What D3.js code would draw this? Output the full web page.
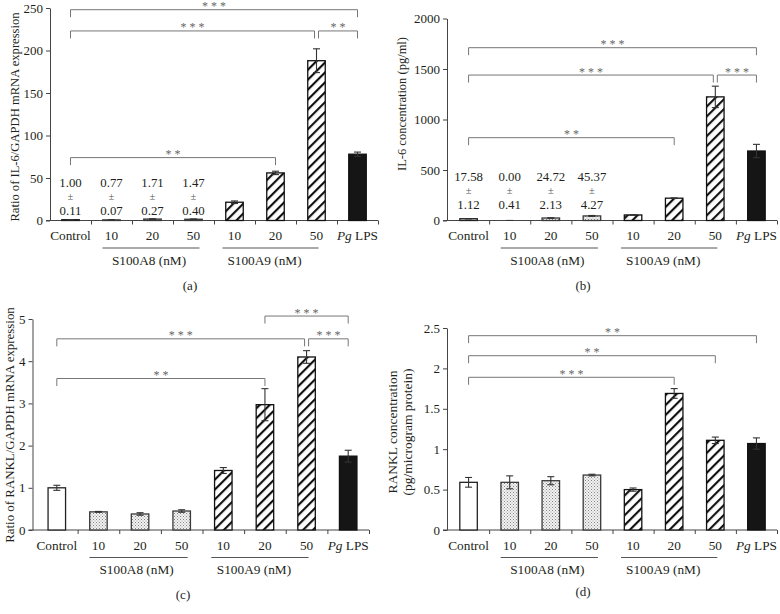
<!DOCTYPE html>
<html><head><meta charset="utf-8">
<script src="https://cdn.jsdelivr.net/npm/d3@7"></script>
<style>
body{margin:0;background:#fff}
svg{display:block}
text{font-family:"Liberation Serif","Times New Roman",serif}
</style>
</head><body>
<svg id="chart" width="780" height="614"></svg>
<script>
// ---------------- data ----------------
const categories = ["Control", "10", "20", "50", "10", "20", "50", "Pg LPS"];
const treatment = ["control", "a8", "a8", "a8", "a9", "a9", "a9", "lps"];
const groupNames = ["S100A8 (nM)", "S100A9 (nM)"];

// (a) IL-6/GAPDH mRNA
const il6Mrna    = [1.00, 0.77, 1.71, 1.47, 21.5, 56, 188, 78];
const il6MrnaErr = [0.11, 0.07, 0.27, 0.40, 1.5, 2, 14, 2.5];
// (b) IL-6 protein (pg/ml)
const il6Prot    = [17.58, 0.00, 24.72, 45.37, 55, 221, 1224, 688];
const il6ProtErr = [1.12, 0.41, 2.13, 4.27, 3, 3, 106, 66];
// (c) RANKL/GAPDH mRNA
const ranklMrna    = [1.00, 0.43, 0.38, 0.45, 1.41, 2.97, 4.10, 1.75];
const ranklMrnaErr = [0.06, 0.01, 0.03, 0.03, 0.07, 0.38, 0.15, 0.14];
// (d) RANKL protein (pg/microgram protein)
const ranklProt    = [0.59, 0.59, 0.61, 0.68, 0.50, 1.69, 1.11, 1.07];
const ranklProtErr = [0.06, 0.08, 0.05, 0.01, 0.02, 0.06, 0.04, 0.07];

// tick labels
const ticksA = [0, 50, 100, 150, 200, 250];
const ticksB = [0, 500, 1000, 1500, 2000];
const ticksC = [0, 1, 2, 3, 4, 5];
const ticksD = [0, 0.5, 1, 1.5, 2, 2.5];

// significance brackets: from/to category index, height in data units
const sigA = [
  {from: 0, to: 7, label: "***", at: 248},
  {from: 0, to: 6, label: "***", at: 223},
  {from: 6, to: 7, label: "**",  at: 223},
  {from: 0, to: 5, label: "**",  at: 74}
];
const sigB = [
  {from: 0, to: 7, label: "***", at: 1711},
  {from: 0, to: 6, label: "***", at: 1440},
  {from: 6, to: 7, label: "***", at: 1440},
  {from: 0, to: 5, label: "**",  at: 820}
];
const sigC = [
  {from: 5, to: 7, label: "***", at: 5.07},
  {from: 0, to: 6, label: "***", at: 4.53},
  {from: 6, to: 7, label: "***", at: 4.53},
  {from: 0, to: 5, label: "**",  at: 3.59}
];
const sigD = [
  {from: 0, to: 7, label: "**",  at: 2.405},
  {from: 0, to: 6, label: "**",  at: 2.157},
  {from: 0, to: 5, label: "***", at: 1.89}
];

// ---------------- drawing ----------------
const svg = d3.select("#chart");
const TEXT = "#231f20";
const defs = svg.append("defs");

const hatch = defs.append("pattern").attr("id", "hatch")
  .attr("patternUnits", "userSpaceOnUse").attr("width", 7).attr("height", 7)
  .attr("patternTransform", "rotate(45)");
hatch.append("rect").attr("width", 7).attr("height", 7).attr("fill", "#fff");
hatch.append("line").attr("x1", 1).attr("y1", 0).attr("x2", 1).attr("y2", 7)
  .attr("stroke", "#111").attr("stroke-width", 2.3);

const dots = defs.append("pattern").attr("id", "dots")
  .attr("patternUnits", "userSpaceOnUse").attr("width", 3).attr("height", 3);
dots.append("rect").attr("width", 3).attr("height", 3).attr("fill", "#f2f2f2");
dots.append("rect").attr("x", 0).attr("y", 0).attr("width", 1).attr("height", 1).attr("fill", "#858585");
dots.append("rect").attr("x", 1.5).attr("y", 1.5).attr("width", 1).attr("height", 1).attr("fill", "#9a9a9a");

const fillOf = {control: "#fff", a8: "url(#dots)", a9: "url(#hatch)", lps: "#151515"};
const strokeOf = {control: "#222", a8: "#3a3a3a", a9: "#111", lps: "#111"};

function drawPanel(cfg) {
  const g = svg.append("g");
  const n = categories.length;
  const x = d3.scaleBand().domain(d3.range(n)).range(cfg.xRange);
  const bw = x.bandwidth();
  const cx = i => x(i) + bw / 2;
  const y = d3.scaleLinear().domain([0, cfg.yMax]).range([cfg.y0, cfg.yTop]);
  const barW = 17.5;

  // y axis
  const ya = g.append("g").attr("transform", `translate(${cfg.yAxisX},0)`)
    .call(d3.axisLeft(y).tickValues(cfg.ticks).tickSize(4).tickSizeOuter(0)
      .tickPadding(3).tickFormat(d => String(d)));
  ya.select(".domain").attr("stroke", "#444");
  ya.selectAll(".tick line").attr("stroke", "#444");
  ya.selectAll(".tick text").attr("fill", TEXT).style("font-size", "13px")
    .style("font-family", '"Liberation Serif",serif');

  // x axis baseline + boundary ticks
  const xb = d3.scaleLinear().domain([0, n]).range(cfg.xRange);
  const xa = g.append("g").attr("transform", `translate(0,${cfg.y0})`)
    .call(d3.axisBottom(xb).tickValues(d3.range(1, n + 1)).tickSize(4).tickSizeOuter(0).tickFormat(""));
  xa.select(".domain").remove();
  xa.selectAll(".tick line").attr("stroke", "#444");
  g.append("line").attr("x1", cfg.yAxisX - 4).attr("x2", cfg.xRange[1])
    .attr("y1", cfg.y0).attr("y2", cfg.y0).attr("stroke", "#444").attr("stroke-width", 1.1);

  // bars
  g.selectAll("rect.bar").data(cfg.values).join("rect").attr("class", "bar")
    .attr("x", (d, i) => cx(i) - barW / 2)
    .attr("width", barW)
    .attr("y", d => y(d))
    .attr("height", d => cfg.y0 - y(d))
    .attr("fill", (d, i) => fillOf[treatment[i]])
    .attr("stroke", (d, i) => strokeOf[treatment[i]])
    .attr("stroke-width", 1.3);

  // error bars
  const eb = g.selectAll("g.err").data(cfg.values).join("g").attr("class", "err");
  eb.each(function (d, i) {
    const e = cfg.errors[i];
    const s = d3.select(this);
    const c = cx(i);
    const lo = d3.max([0, d - e]);
    s.append("line").attr("x1", c).attr("x2", c).attr("y1", y(lo)).attr("y2", y(d + e))
      .attr("stroke", "#333").attr("stroke-width", 1.1);
    s.append("line").attr("x1", c - 3.5).attr("x2", c + 3.5).attr("y1", y(d + e)).attr("y2", y(d + e))
      .attr("stroke", "#333").attr("stroke-width", 1.1);
    if (d - e > 0) {
      s.append("line").attr("x1", c - 3.5).attr("x2", c + 3.5).attr("y1", y(lo)).attr("y2", y(lo))
        .attr("stroke", "#333").attr("stroke-width", 1.1);
    }
  });

  // category labels
  const cl = g.selectAll("text.cat").data(categories).join("text").attr("class", "cat")
    .attr("x", (d, i) => cx(i)).attr("y", cfg.y0 + 19.5)
    .attr("text-anchor", "middle").attr("fill", TEXT).style("font-size", "13.3px");
  cl.each(function (d) {
    const t = d3.select(this);
    if (d.startsWith("Pg ")) {
      t.append("tspan").attr("font-style", "italic").text("Pg");
      t.append("tspan").text(" " + d.slice(3));
    } else t.text(d);
  });

  // group lines and labels
  const groupSpans = [[1, 3, -9, 6, -2], [4, 6, -12, 2, -6]];
  groupSpans.forEach((sp, k) => {
    const x1 = cx(sp[0]) + sp[2], x2 = cx(sp[1]) + sp[3];
    const ly = cfg.y0 + 27.5;
    g.append("line").attr("x1", x1).attr("x2", x2).attr("y1", ly).attr("y2", ly)
      .attr("stroke", "#555").attr("stroke-width", 1);
    g.append("text").attr("x", (x1 + x2) / 2 + sp[4]).attr("y", ly + 16.5)
      .attr("text-anchor", "middle").attr("fill", TEXT).style("font-size", "13.3px")
      .text(groupNames[k]);
  });

  // significance brackets
  cfg.sig.forEach(s => {
    const shared = cfg.sig.filter(o => o !== s && o.at === s.at);
    let x1 = cx(s.from), x2 = cx(s.to);
    shared.forEach(o => {
      if (o.from === s.to) x2 -= 2;
      if (o.to === s.from) x1 += 2;
    });
    const yb = y(s.at);
    g.append("path")
      .attr("d", `M${x1},${yb + 7.5}V${yb}H${x2}V${yb + 7.5}`)
      .attr("fill", "none").attr("stroke", "#777").attr("stroke-width", 1);
    g.append("text").attr("x", (x1 + x2) / 2).attr("y", yb + 0.5)
      .attr("text-anchor", "middle").attr("fill", "#666").style("font-size", "12px")
      .text(s.label.split("").join(" "));
  });

  // value annotations (mean, ±, sd) above the small bars
  if (cfg.annot) {
    for (let i = 0; i < 4; i++) {
      const lines = [cfg.values[i].toFixed(2), "±", cfg.errors[i].toFixed(2)];
      lines.forEach((t, k) => {
        g.append("text").attr("x", cx(i)).attr("y", cfg.y0 + cfg.annot[k])
          .attr("text-anchor", "middle").attr("fill", k === 1 ? "#555" : TEXT)
          .style("font-size", k === 1 ? "10.5px" : "12.8px").text(t);
      });
    }
  }

  // y axis title
  cfg.title.forEach(t => {
    g.append("text")
      .attr("transform", `translate(${t.x},${t.y}) rotate(-90)`)
      .attr("text-anchor", "middle").attr("fill", TEXT).style("font-size", t.size + "px")
      .text(t.text);
  });

  // panel label
  g.append("text").attr("x", cfg.label[0]).attr("y", cfg.label[1])
    .attr("text-anchor", "middle").attr("fill", TEXT).style("font-size", "13px")
    .text(cfg.label[2]);
}

drawPanel({
  values: il6Mrna, errors: il6MrnaErr, ticks: ticksA, yMax: 250,
  xRange: [50, 378], yAxisX: 50, y0: 220.5, yTop: 8, sig: sigA,
  annot: [-33.4, -21, -5.8],
  title: [{text: "Ratio of IL-6/GAPDH mRNA expression", x: 19, y: 117, size: 12.6}],
  label: [190, 290, "(a)"]
});
drawPanel({
  values: il6Prot, errors: il6ProtErr, ticks: ticksB, yMax: 2000,
  xRange: [448, 777], yAxisX: 447, y0: 220.5, yTop: 18.5, sig: sigB,
  annot: [-39.1, -26.7, -11.5],
  title: [{text: "IL-6 concentration (pg/ml)", x: 406, y: 104, size: 12.5}],
  label: [583, 290, "(b)"]
});
drawPanel({
  values: ranklMrna, errors: ranklMrnaErr, ticks: ticksC, yMax: 5,
  xRange: [36, 369], yAxisX: 32.5, y0: 530, yTop: 319, sig: sigC,
  title: [{text: "Ratio of RANKL/GAPDH mRNA expression", x: 14, y: 425, size: 12.9}],
  label: [183, 599, "(c)"]
});
drawPanel({
  values: ranklProt, errors: ranklProtErr, ticks: ticksD, yMax: 2.5,
  xRange: [448, 777], yAxisX: 447, y0: 530, yTop: 328, sig: sigD,
  title: [{text: "RANKL concentration", x: 397, y: 432, size: 13.5},
          {text: "(pg/microgram protein)", x: 412, y: 432, size: 13.5}],
  label: [583, 596, "(d)"]
});
</script>
</body></html>
